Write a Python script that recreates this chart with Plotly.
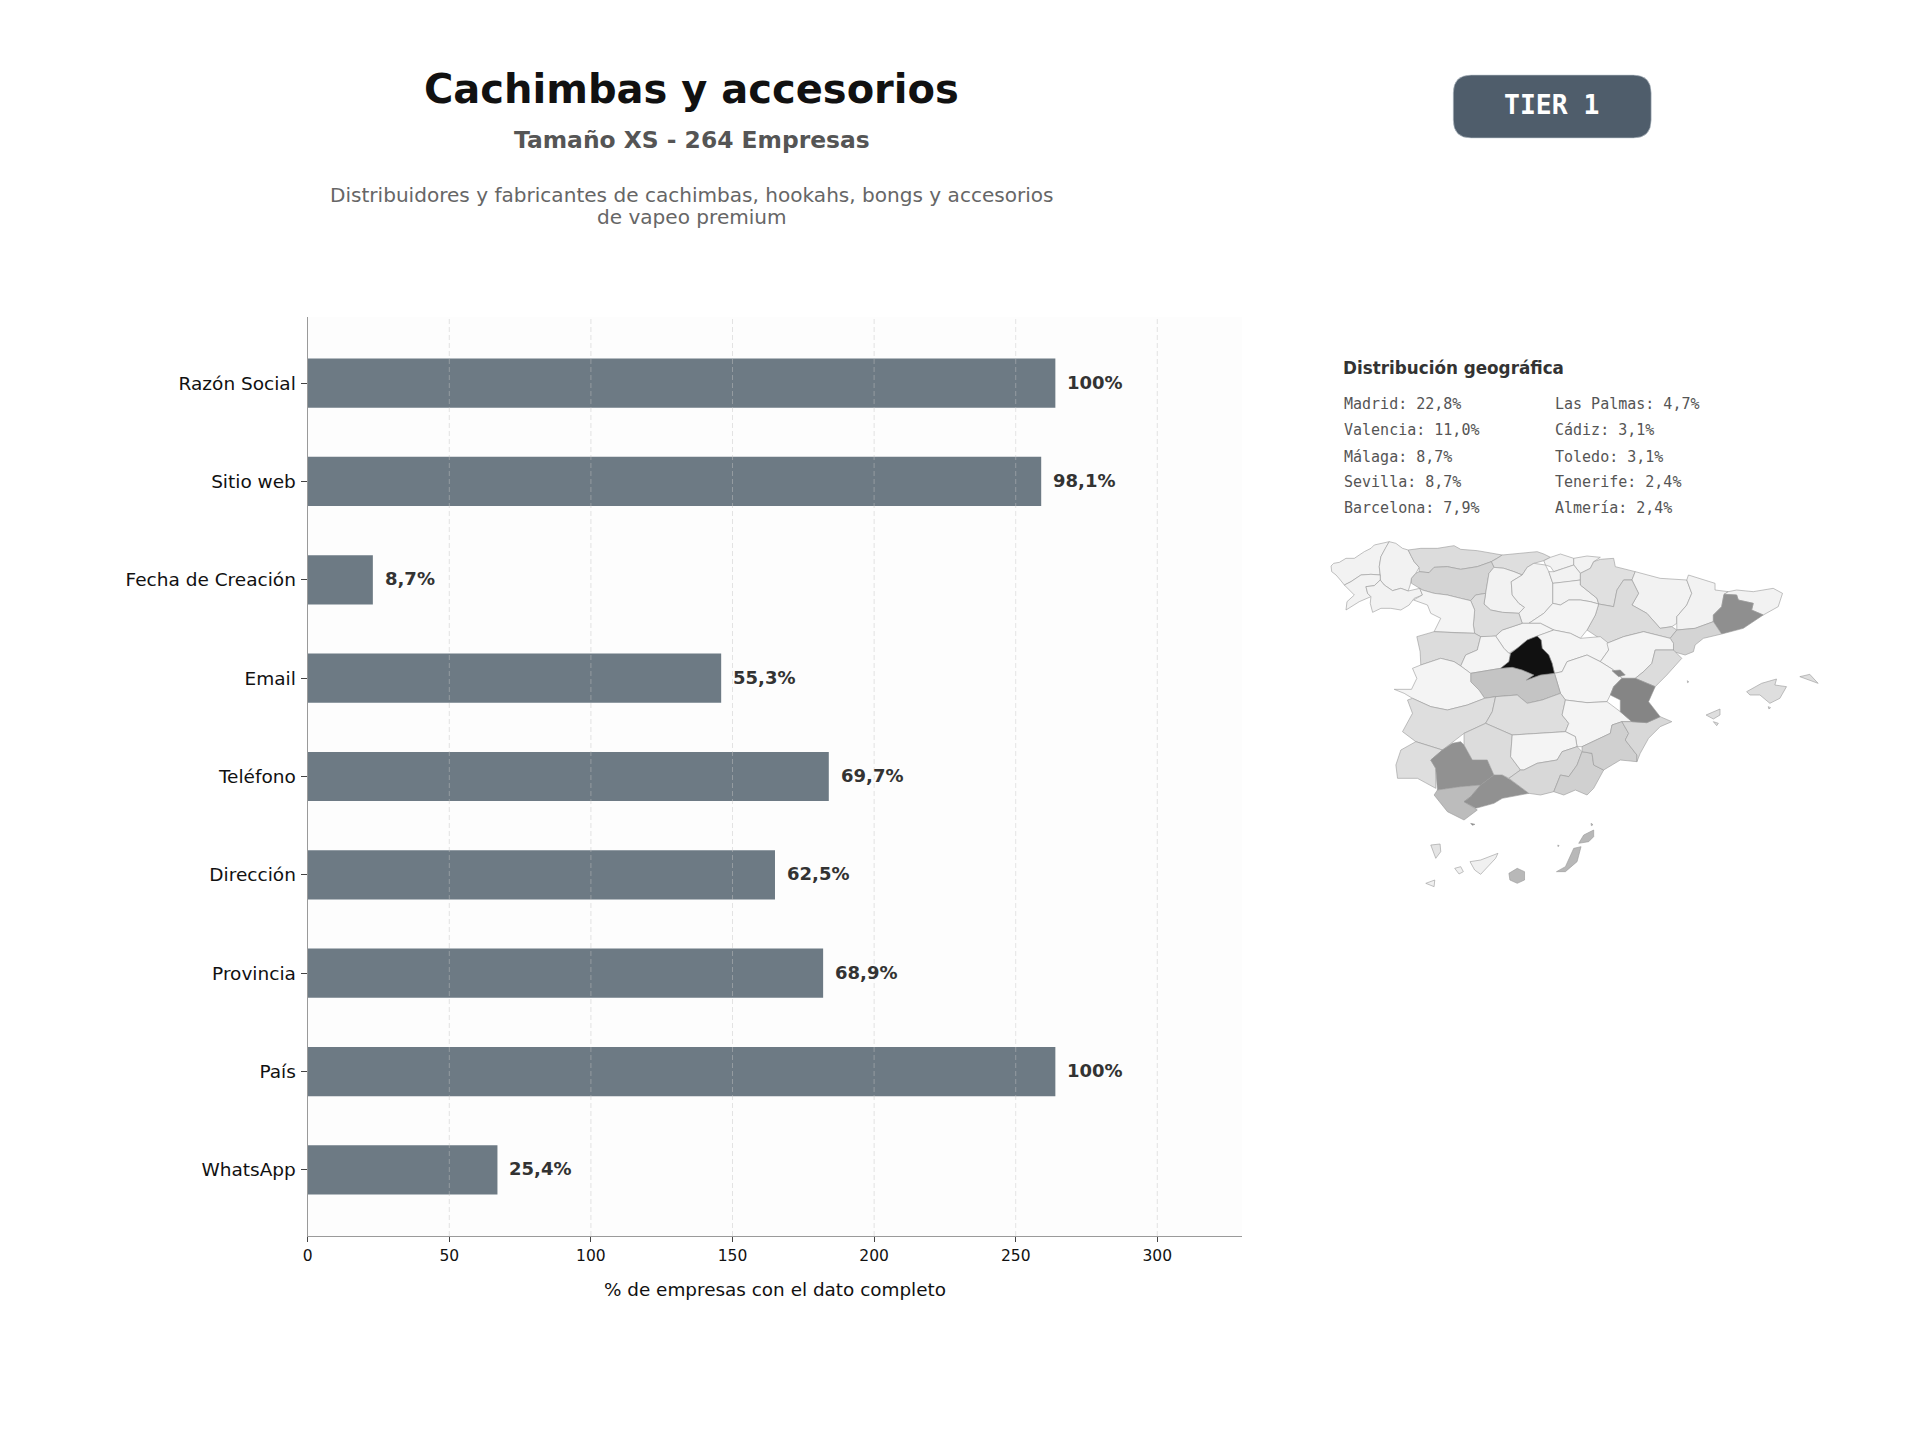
import plotly.graph_objects as go

# Datos de las barras
campos = ["Razón Social", "Sitio web", "Fecha de Creación", "Email", "Teléfono",
          "Dirección", "Provincia", "País", "WhatsApp"]
empresas = [264, 259, 23, 146, 184, 165, 182, 264, 67]
etiquetas = ["100%", "98,1%", "8,7%", "55,3%", "69,7%", "62,5%", "68,9%", "100%", "25,4%"]
ticks_x = [0, 50, 100, 150, 200, 250, 300]

# Ranking geografico
ranking_1 = ["Madrid: 22,8%", "Valencia: 11,0%", "Málaga: 8,7%", "Sevilla: 8,7%", "Barcelona: 7,9%"]
ranking_2 = ["Las Palmas: 4,7%", "Cádiz: 3,1%", "Toledo: 3,1%", "Tenerife: 2,4%", "Almería: 2,4%"]

# Contornos de provincias (x, y del mapa)
coruna = [(30,108),(38,100),(55,97),(75,85),(100,85),(130,65),(150,55),(160,45),(205,35),(195,52),(180,80),(175,110),(178,135),(150,133),(120,135),(90,155),(70,165),(58,150),(45,135),(32,125)]
lugo = [(205,35),(225,40),(245,55),(262,60),(272,80),(280,95),(295,112),(285,130),(272,145),(268,165),(262,183),(240,175),(215,182),(190,165),(178,150),(178,135),(175,110),(180,80),(195,52)]
pontevedra = [(70,165),(90,155),(120,135),(150,133),(178,135),(178,150),(160,167),(135,170),(140,190),(150,200),(115,215),(95,228),(75,240),(78,215),(100,195),(85,180)]
ourense = [(135,170),(160,167),(178,150),(190,165),(215,182),(240,175),(262,183),(297,175),(305,195),(280,205),(265,225),(240,240),(210,235),(180,235),(155,247),(148,220),(150,200),(140,190)]
asturias = [(262,60),(300,55),(350,55),(400,47),(420,58),(470,62),(545,75),(530,85),(512,95),(470,110),(420,118),(380,110),(340,112),(325,128),(295,125),(295,112),(280,95),(272,80)]
cantabria = [(545,75),(600,70),(650,65),(670,72),(690,82),(670,92),(640,100),(620,112),(605,135),(580,125),(550,115),(520,112),(512,95),(530,85)]
leon = [(295,125),(325,128),(340,112),(380,110),(420,118),(470,110),(512,95),(520,112),(505,130),(500,155),(495,190),(465,195),(450,212),(420,205),(380,195),(340,190),(305,180),(272,160),(272,145),(285,130)]
palencia = [(520,112),(550,115),(580,125),(590,130),(605,135),(572,155),(575,195),(595,220),(612,232),(595,250),(545,247),(510,240),(490,222),(495,190),(500,155),(505,130)]
burgos = [(605,135),(620,112),(640,100),(675,105),(685,125),(697,160),(697,220),(670,250),(625,280),(605,280),(595,250),(612,232),(595,220),(575,195),(572,155)]
bizkaia = [(690,82),(720,72),(760,85),(760,105),(730,115),(700,125),(690,110),(675,105),(670,92)]
gipuzkoa = [(760,85),(800,78),(840,82),(820,95),(810,115),(780,130),(760,105)]
alava = [(685,125),(700,125),(730,115),(760,105),(780,130),(780,150),(745,155),(697,160)]
rioja = [(697,160),(745,155),(780,150),(780,165),(830,205),(835,222),(810,215),(780,210),(745,210),(720,225),(697,220)]
navarra = [(820,95),(840,88),(880,85),(885,110),(945,125),(935,150),(910,150),(890,180),(880,230),(835,222),(830,205),(780,165),(780,130),(810,115)]
huesca = [(945,125),(1020,145),(1100,150),(1115,190),(1100,225),(1070,260),(1070,280),(1055,290),(1020,295),(980,250),(935,225),(955,190),(935,150)]
zaragoza = [(890,180),(910,150),(935,150),(955,190),(935,225),(980,250),(1020,295),(1055,290),(1070,300),(1050,325),(970,305),(910,320),(860,340),(800,300),(825,255),(835,222),(880,230)]
lleida = [(1105,135),(1185,160),(1185,180),(1225,185),(1212,193),(1205,230),(1180,255),(1180,275),(1125,295),(1070,300),(1070,260),(1100,225),(1115,190),(1100,150)]
girona = [(1225,185),(1250,180),(1300,185),(1360,175),(1388,190),(1375,230),(1330,255),(1295,240),(1300,220),(1255,210),(1250,195),(1212,193)]
barcelona = [(1212,193),(1250,195),(1255,210),(1300,220),(1295,240),(1330,255),(1270,295),(1205,312),(1180,275),(1180,255),(1205,230)]
tarragona = [(1070,300),(1125,295),(1180,275),(1205,312),(1150,325),(1125,345),(1120,365),(1095,375),(1060,365),(1060,340),(1050,325)]
soria = [(697,220),(720,225),(745,210),(780,210),(810,215),(835,222),(825,255),(800,300),(780,325),(750,310),(700,300),(660,280),(625,280),(670,250)]
segovia = [(525,318),(545,300),(605,280),(625,280),(660,280),(700,300),(650,318),(620,330),(590,355),(565,370),(550,355)]
valladolid = [(450,212),(465,195),(495,190),(490,222),(510,240),(545,247),(595,250),(605,280),(545,300),(525,318),(510,320),(480,320),(462,310),(458,285),(462,240)]
zamora = [(278,210),(305,195),(297,175),(305,180),(340,190),(380,195),(420,205),(450,212),(462,240),(458,285),(462,310),(400,308),(340,305),(360,265),(330,250),(320,225)]
salamanca = [(288,320),(340,305),(400,308),(462,310),(480,320),(470,360),(435,375),(420,408),(400,395),(360,385),(300,405),(298,365)]
avila = [(480,320),(510,320),(525,318),(550,355),(565,370),(570,370),(565,395),(540,415),(450,430),(420,408),(435,375),(470,360)]
madrid = [(650,318),(662,330),(665,355),(685,375),(695,400),(702,430),(660,435),(618,450),(640,435),(605,420),(575,412),(540,415),(565,395),(570,370),(590,355),(620,330)]
guadalajara = [(650,318),(700,300),(750,310),(780,325),(840,320),(865,340),(865,360),(840,395),(800,375),(770,385),(740,395),(725,425),(702,430),(695,400),(685,375),(665,355),(662,330)]
teruel = [(860,340),(910,320),(970,305),(1050,325),(1060,340),(1060,360),(1005,360),(995,400),(970,425),(945,445),(905,445),(880,420),(840,395),(865,360)]
castellon = [(1005,360),(1060,360),(1085,385),(1040,435),(1005,470),(945,445),(970,425),(995,400)]
valencia = [(905,445),(945,445),(1005,470),(985,515),(1020,560),(980,578),(935,575),(900,545),(900,510),(870,495),(880,470)]
ademuz = [(875,422),(900,420),(915,435),(895,440)]
cuenca = [(702,430),(725,425),(740,395),(770,385),(800,375),(840,395),(880,420),(905,445),(880,470),(870,495),(860,515),(800,518),(735,510),(720,490),(705,440)]
toledo = [(450,430),(540,415),(575,412),(605,420),(640,435),(618,450),(660,435),(702,430),(705,440),(720,490),(665,510),(620,520),(590,495),(525,500),(492,505),(475,480),(450,455)]
caceres = [(275,415),(300,405),(360,385),(400,395),(420,408),(450,430),(450,455),(475,480),(492,505),(440,525),(380,540),(330,530),(275,505),(250,490),(220,478),(272,478),(288,445)]
badajoz = [(260,510),(275,505),(330,530),(380,540),(440,525),(492,505),(525,500),(515,545),(495,580),(430,610),(365,660),(285,635),(245,605),(275,550)]
ciudad_real = [(525,500),(590,495),(620,520),(665,510),(720,490),(735,510),(725,555),(745,580),(735,605),(575,615),(495,580),(515,545)]
albacete = [(735,510),(800,518),(860,515),(900,545),(935,575),(905,575),(875,585),(870,610),(785,650),(770,650),(765,620),(735,605),(745,580),(725,555)]
huelva = [(225,705),(240,660),(285,635),(365,660),(330,690),(345,715),(345,775),(290,745),(230,745)]
sevilla = [(330,690),(365,660),(395,640),(420,635),(430,645),(455,690),(500,690),(520,735),(480,765),(420,770),(350,780),(345,715)]
cadiz = [(340,795),(350,780),(420,770),(480,765),(450,800),(430,815),(470,840),(430,870),(380,845),(355,815)]
malaga = [(480,765),(520,735),(545,735),(570,750),(625,790),(545,805),(520,820),(465,835),(430,815),(450,800)]
cordoba = [(430,610),(495,580),(575,615),(570,680),(600,720),(565,745),(545,735),(520,735),(500,690),(455,690),(430,645)]
jaen = [(575,615),(735,605),(765,620),(770,650),(725,665),(710,690),(650,700),(610,720),(600,720),(570,680)]
granada = [(600,720),(610,720),(650,700),(710,690),(725,665),(770,650),(785,665),(770,705),(745,740),(720,735),(700,785),(660,795),(625,790),(570,750),(565,745)]
almeria = [(785,665),(815,670),(820,705),(850,720),(820,775),(800,795),(765,780),(730,795),(700,785),(720,735),(745,740),(770,705)]
murcia = [(785,650),(870,610),(875,585),(905,575),(925,610),(915,630),(950,675),(950,695),(900,690),(850,720),(820,705),(815,670),(785,665)]
alicante = [(905,575),(935,575),(980,578),(1020,560),(1055,575),(1020,590),(985,625),(960,670),(950,695),(950,675),(915,630),(925,610)]
mallorca = [(1280,485),(1325,460),(1370,447),(1365,465),(1400,470),(1380,505),(1350,520),(1320,495),(1290,495)]
cabrera = [(1345,530),(1352,533),(1347,537)]
menorca = [(1440,440),(1470,433),(1495,460),(1470,450)]
ibiza = [(1158,555),(1200,537),(1200,555),(1180,567)]
formentera = [(1180,575),(1195,580),(1190,587)]
columbretes = [(1102,452),(1106,456),(1102,458)]
la_palma = [(330,945),(358,942),(360,965),(345,985)]
tenerife = [(448,995),(480,990),(532,970),(525,985),(480,1033),(462,1020)]
gomera = [(402,1015),(420,1010),(428,1025),(415,1032)]
hierro = [(315,1060),(342,1050),(340,1070)]
gran_canaria = [(565,1030),(590,1015),(612,1025),(612,1050),(590,1060),(568,1050)]
fuerteventura = [(708,1025),(735,1010),(760,955),(782,950),(770,995),(735,1025)]
lanzarote = [(775,940),(790,915),(820,900),(820,920),(805,935)]
graciosa = [(812,880),(818,884),(813,887)]
lobos = [(712,945),(716,947),(713,950)]
ceuta = [(450,880),(463,883),(455,886)]

provincias = ["A Coruña", "Lugo", "Pontevedra", "Ourense", "Asturias", "Cantabria", "León", "Palencia",
              "Burgos", "Bizkaia", "Gipuzkoa", "Álava", "La Rioja", "Navarra", "Huesca", "Zaragoza",
              "Lleida", "Girona", "Barcelona", "Tarragona", "Soria", "Segovia", "Valladolid", "Zamora",
              "Salamanca", "Ávila", "Guadalajara", "Teruel", "Castellón", "Cuenca", "Toledo", "Cáceres",
              "Badajoz", "Ciudad Real", "Albacete", "Huelva", "Sevilla", "Cádiz", "Málaga", "Córdoba",
              "Jaén", "Granada", "Almería", "Murcia", "Alicante", "Valencia", "Valencia (Ademuz)", "Madrid",
              "Mallorca", "Cabrera", "Menorca", "Ibiza", "Formentera", "Columbretes", "La Palma", "Tenerife",
              "La Gomera", "El Hierro", "Gran Canaria", "Fuerteventura", "Lanzarote", "La Graciosa", "Lobos", "Ceuta"]
contornos = [coruna, lugo, pontevedra, ourense, asturias, cantabria, leon, palencia,
             burgos, bizkaia, gipuzkoa, alava, rioja, navarra, huesca, zaragoza,
             lleida, girona, barcelona, tarragona, soria, segovia, valladolid, zamora,
             salamanca, avila, guadalajara, teruel, castellon, cuenca, toledo, caceres,
             badajoz, ciudad_real, albacete, huelva, sevilla, cadiz, malaga, cordoba,
             jaen, granada, almeria, murcia, alicante, valencia, ademuz, madrid,
             mallorca, cabrera, menorca, ibiza, formentera, columbretes, la_palma, tenerife,
             gomera, hierro, gran_canaria, fuerteventura, lanzarote, graciosa, lobos, ceuta]
grises = ["#f2f2f2", "#f2f2f2", "#f2f2f2", "#f2f2f2", "#dcdcdc", "#dedede", "#d4d4d4", "#f2f2f2",
          "#f2f2f2", "#f2f2f2", "#f2f2f2", "#f2f2f2", "#f2f2f2", "#e0e0e0", "#f2f2f2", "#dcdcdc",
          "#f2f2f2", "#f2f2f2", "#8f8f8f", "#d4d4d4", "#f4f4f4", "#f4f4f4", "#dddddd", "#f4f4f4",
          "#dcdcdc", "#f4f4f4", "#f4f4f4", "#f4f4f4", "#dcdcdc", "#f4f4f4", "#c4c4c4", "#f4f4f4",
          "#dedede", "#dedede", "#f4f4f4", "#dedede", "#919191", "#bcbcbc", "#919191", "#dcdcdc",
          "#f4f4f4", "#d8d8d8", "#d0d0d0", "#d0d0d0", "#d8d8d8", "#858585", "#858585", "#111111",
          "#dedede", "#dedede", "#dedede", "#dedede", "#dedede", "#dedede", "#e4e4e4", "#f0f0f0",
          "#f0f0f0", "#f0f0f0", "#b8b8b8", "#b8b8b8", "#b8b8b8", "#b8b8b8", "#b8b8b8", "#888888"]


def px(x):
    return (x - 2.5) / 1920


def py(y):
    return 1 - y / 1440


fig = go.Figure()

# Fondo solo del panel de barras
fig.add_shape(type="rect", x0=0, x1=1, y0=0, y1=1, xref="x domain", yref="y domain",
              fillcolor="#fdfdfd", line_width=0, layer="below")

fig.add_trace(go.Bar(
    x=empresas, y=campos, orientation="h", width=0.5,
    marker=dict(color="#6d7a84", line_width=0),
    hovertemplate="%{y}: %{x}<extra></extra>",
))

# Mapa como poligonos rellenos en un segundo par de ejes
for nombre, contorno, gris in zip(provincias, contornos, grises):
    fig.add_trace(go.Scatter(
        x=[p[0] for p in contorno] + [contorno[0][0]],
        y=[p[1] for p in contorno] + [contorno[0][1]],
        mode="lines", fill="toself", fillcolor=gris,
        line=dict(color="#989898", width=0.6),
        name=nombre, hoverinfo="name", xaxis="x2", yaxis="y2",
    ))

# Rejilla por encima de las barras
for t in ticks_x[1:]:
    fig.add_shape(type="line", x0=t, x1=t, y0=0, y1=1, xref="x", yref="y domain",
                  line=dict(color="rgba(195,195,195,0.45)", width=1, dash="5px,3px"), layer="above")

for campo, valor, etiqueta in zip(campos, empresas, etiquetas):
    fig.add_annotation(x=valor, y=campo, text=f"<b>{etiqueta}</b>", showarrow=False,
                       xanchor="left", xshift=10, yshift=1,
                       font=dict(family="DejaVu Sans", size=18, color="#333333"))

textos = [
    ("<b>Cachimbas y accesorios</b>", 691, 89, 40, "#111111", "DejaVu Sans", "center"),
    ("<b>Tamaño XS - 264 Empresas</b>", 691, 140, 23.4, "#555555", "DejaVu Sans", "center"),
    ("Distribuidores y fabricantes de cachimbas, hookahs, bongs y accesorios", 691, 195, 20.07, "#666666", "DejaVu Sans", "center"),
    ("de vapeo premium", 691, 217, 20.07, "#666666", "DejaVu Sans", "center"),
    ("<b>TIER 1</b>", 1553.5, 105, 26.4, "#ffffff", "DejaVu Sans Mono", "center"),
    ("<b>Distribución geográfica</b>", 1342, 368, 16.8, "#333333", "DejaVu Sans", "left"),
]
for texto, x, y, size, color, familia, ancla in textos:
    fig.add_annotation(x=px(x), y=py(y), xref="paper", yref="paper", text=texto, showarrow=False,
                       xanchor=ancla, yanchor="middle", font=dict(family=familia, size=size, color=color))

filas_y = [404, 430, 456.5, 482, 508]
for texto, y in zip(ranking_1, filas_y):
    fig.add_annotation(x=px(1342.5), y=py(y), xref="paper", yref="paper", text=texto, showarrow=False,
                       xanchor="left", yanchor="middle", font=dict(family="DejaVu Sans Mono", size=15, color="#555555"))
for texto, y in zip(ranking_2, filas_y):
    fig.add_annotation(x=px(1555), y=py(y), xref="paper", yref="paper", text=texto, showarrow=False,
                       xanchor="left", yanchor="middle", font=dict(family="DejaVu Sans Mono", size=15, color="#555555"))

# Placa TIER con esquinas redondeadas
x0, x1, y0, y1, r = 1454.5, 1653, 75, 138, 18
placa = (f"M {px(x0 + r)} {py(y0)} L {px(x1 - r)} {py(y0)} Q {px(x1)} {py(y0)} {px(x1)} {py(y0 + r)} "
         f"L {px(x1)} {py(y1 - r)} Q {px(x1)} {py(y1)} {px(x1 - r)} {py(y1)} "
         f"L {px(x0 + r)} {py(y1)} Q {px(x0)} {py(y1)} {px(x0)} {py(y1 - r)} "
         f"L {px(x0)} {py(y0 + r)} Q {px(x0)} {py(y0)} {px(x0 + r)} {py(y0)} Z")
fig.add_shape(type="path", path=placa, xref="paper", yref="paper",
              fillcolor="#4f5d6b", line=dict(color="#c5ccd3", width=0.6), layer="below")

fig.update_layout(
    width=1920, height=1440, showlegend=False,
    paper_bgcolor="#ffffff", plot_bgcolor="rgba(0,0,0,0)",
    margin=dict(l=0, r=0, t=0, b=0),
    font=dict(family="DejaVu Sans", color="#111111"),
    xaxis=dict(domain=[px(306), px(1243)], range=[0, 330], tickvals=ticks_x, showgrid=False,
               showline=True, linecolor="#9a9a9a", linewidth=1.3, zeroline=False,
               ticks="outside", ticklen=5, tickcolor="#444444", tickfont=dict(size=15.5, color="#111111"),
               title=dict(text="% de empresas con el dato completo", font=dict(size=18.4, color="#111111"), standoff=19)),
    yaxis=dict(domain=[py(1236), py(317)], autorange=False, range=[8.672, -0.672], showgrid=False,
               showline=True, linecolor="#9a9a9a", linewidth=1.3, zeroline=False,
               ticks="outside", ticklen=6, tickcolor="#444444", tickfont=dict(size=18.5, color="#111111"),
               ticklabelstandoff=1,
               type="category", categoryorder="array", categoryarray=campos),
    xaxis2=dict(domain=[px(1322), px(1842)], range=[0, 1560], visible=False, anchor="y2"),
    yaxis2=dict(domain=[py(900), py(530)], range=[1110, 0], visible=False, anchor="x2"),
)

fig.write_html("out.html", post_script="document.body.style.margin='0';",
               config=dict(displayModeBar=False))
